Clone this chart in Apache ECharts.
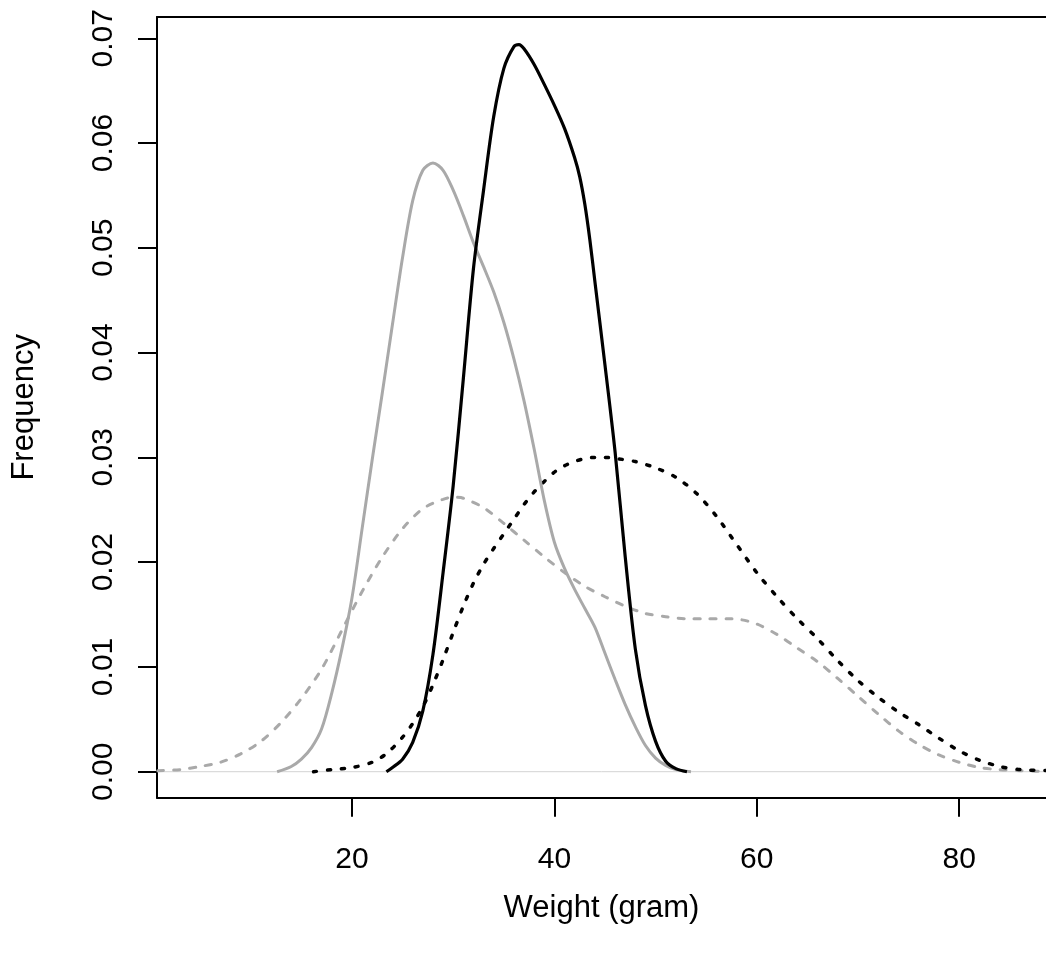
<!DOCTYPE html>
<html>
<head>
<meta charset="utf-8">
<script src="https://cdn.jsdelivr.net/npm/echarts@6/dist/echarts.min.js"></script>
<style>
html,body{margin:0;padding:0;background:#fff;}
#chart{width:1046px;height:955px;}
</style>
</head>
<body>
<div id="chart"></div>
<script>
// ---- Data ----
var xTicks = [20, 40, 60, 80];
var yTicks = [0, 0.01, 0.02, 0.03, 0.04, 0.05, 0.06, 0.07];

// grey solid curve
var greySolidX = [12.6, 14, 15, 16, 17, 18, 19, 20, 21, 22, 23, 24, 25, 26, 27, 28, 29, 30, 31, 32, 33, 34, 35, 36, 37, 38, 39, 40, 41, 42, 43, 44, 45, 46, 47, 48, 49, 50, 51, 52, 53.5];
var greySolidY = [0, 0.0005, 0.0012, 0.0023, 0.0041, 0.0075, 0.0117, 0.0166, 0.0232, 0.0298, 0.0362, 0.0427, 0.0491, 0.0545, 0.0574, 0.0581, 0.0574, 0.0555, 0.0531, 0.0505, 0.0482, 0.0458, 0.0429, 0.0394, 0.0354, 0.0308, 0.0259, 0.0219, 0.0194, 0.0174, 0.0156, 0.0138, 0.0113, 0.0088, 0.0064, 0.0043, 0.0025, 0.0013, 0.0006, 0.0002, 0];

// black solid curve
var blackSolidX = [23.4, 24, 25, 26, 27, 28, 29, 30, 31, 32, 33, 34, 35, 36, 36.5, 37, 38, 39, 40, 41, 42, 42.5, 43, 43.5, 44, 45, 46, 47, 48, 49, 50, 51, 52, 53.1];
var blackSolidY = [0, 0.0004, 0.0012, 0.0028, 0.0058, 0.0112, 0.0190, 0.0273, 0.0375, 0.0480, 0.0555, 0.0625, 0.0671, 0.0692, 0.0694, 0.0690, 0.0675, 0.0656, 0.0636, 0.0614, 0.0586, 0.0568, 0.0542, 0.0508, 0.0468, 0.0388, 0.0305, 0.0205, 0.0117, 0.0063, 0.0029, 0.0010, 0.0003, 0];

// grey dashed curve
var greyDashX = [0.8, 3, 5, 7, 9, 11, 13, 15, 17, 19, 21, 23, 25, 27, 29, 30, 31, 33, 35, 37, 39, 41, 43, 45, 47, 49, 51, 53, 55, 57, 58.5, 60, 62, 64, 66, 68, 70, 72, 74, 76, 78, 80, 82, 84, 86, 89.5];
var greyDashY = [0.0001, 0.0002, 0.0005, 0.0009, 0.0017, 0.0029, 0.0047, 0.0070, 0.0098, 0.0135, 0.0172, 0.0205, 0.0232, 0.0251, 0.0260, 0.0262, 0.0261, 0.0252, 0.0237, 0.0221, 0.0205, 0.0190, 0.0177, 0.0167, 0.0158, 0.0151, 0.0148, 0.0146, 0.0146, 0.0146, 0.0145, 0.0141, 0.0131, 0.0118, 0.0105, 0.0089, 0.0072, 0.0055, 0.0039, 0.0026, 0.0016, 0.0009, 0.0004, 0.0002, 0.0001, 0];

// black dotted curve
var blackDotX = [16.2, 18, 20, 22, 23.5, 25, 26, 27, 28, 29, 30, 31, 32, 33, 34, 35, 36, 37, 38, 39, 40, 41, 42, 43, 44, 45, 46, 48, 50, 52, 54, 56, 58, 60, 62, 64, 66, 68, 70, 72, 74, 76, 78, 80, 82, 84, 86, 89.5];
var blackDotY = [0, 0.0002, 0.0004, 0.0009, 0.0018, 0.0033, 0.0046, 0.0062, 0.0083, 0.0107, 0.0133, 0.0158, 0.0180, 0.0198, 0.0213, 0.0227, 0.0241, 0.0255, 0.0267, 0.0277, 0.0286, 0.0292, 0.0296, 0.0299, 0.0300, 0.0300, 0.0299, 0.0296, 0.0290, 0.0281, 0.0266, 0.0244, 0.0217, 0.0190, 0.0167, 0.0146, 0.0127, 0.0106, 0.0087, 0.0071, 0.0057, 0.0045, 0.0032, 0.0020, 0.0011, 0.0005, 0.0002, 0.0001];

var xMin = 0.73, xMax = 88.58;
var yMin = -0.00248, yMax = 0.07203;

function pairs(xs, ys) {
  var out = [];
  for (var i = 0; i < xs.length; i++) out.push([xs[i], ys[i]]);
  return out;
}

var FONT = "'Liberation Sans', Arial, Helvetica, sans-serif";
var GREY = '#a9a9a9';

var chart = echarts.init(document.getElementById('chart'), null, {renderer: 'canvas'});
chart.setOption({
  animation: false,
  backgroundColor: '#ffffff',
  grid: {
    left: 157, top: 17, width: 889, height: 780.7,
    show: false, containLabel: false, outerBoundsMode: 'none'
  },
  xAxis: [{
    type: 'value', min: xMin, max: xMax, position: 'bottom',
    name: 'Weight (gram)', nameLocation: 'middle', nameGap: 95,
    nameTextStyle: {fontSize: 31, color: '#000', fontFamily: FONT},
    axisLine: {show: true, onZero: false, lineStyle: {color: '#000', width: 2}},
    splitLine: {show: false},
    axisTick: {show: true, inside: false, customValues: xTicks, length: 19, lineStyle: {color: '#000', width: 2}},
    axisLabel: {show: true, customValues: xTicks, fontSize: 30, color: '#000', fontFamily: FONT, margin: 47}
  }, {
    type: 'value', min: xMin, max: xMax, position: 'top',
    axisLine: {show: true, onZero: false, lineStyle: {color: '#000', width: 2}},
    splitLine: {show: false}, axisTick: {show: false}, axisLabel: {show: false}
  }],
  yAxis: {
    type: 'value', min: yMin, max: yMax, position: 'left',
    name: 'Frequency', nameLocation: 'middle', nameGap: 117,
    nameTextStyle: {fontSize: 31, color: '#000', fontFamily: FONT},
    axisLine: {show: true, onZero: false, lineStyle: {color: '#000', width: 2}},
    splitLine: {show: false},
    axisTick: {show: true, inside: false, customValues: yTicks, length: 19, lineStyle: {color: '#000', width: 2}},
    axisLabel: {show: true, customValues: yTicks, rotate: 90, fontSize: 30, color: '#000', fontFamily: FONT, margin: 38,
      formatter: function (v) { return v.toFixed(2); }}
  },
  series: [
    {
      name: 'zero', type: 'line', data: [[xMin, 0], [xMax, 0]], showSymbol: false, silent: true,
      lineStyle: {color: '#d3d3d3', width: 1}, z: 1
    },
    {
      name: 'greyDash', type: 'line', data: pairs(greyDashX, greyDashY), showSymbol: false, smooth: 0.3,
      lineStyle: {color: GREY, width: 3, type: [6, 10], cap: 'round'}, z: 2
    },
    {
      name: 'blackDot', type: 'line', data: pairs(blackDotX, blackDotY), showSymbol: false, smooth: 0.3,
      lineStyle: {color: '#000', width: 3.5, type: [3, 11], cap: 'round'}, z: 3
    },
    {
      name: 'greySolid', type: 'line', data: pairs(greySolidX, greySolidY), showSymbol: false, smooth: 0.3,
      lineStyle: {color: GREY, width: 3}, z: 4
    },
    {
      name: 'blackSolid', type: 'line', data: pairs(blackSolidX, blackSolidY), showSymbol: false, smooth: 0.3,
      lineStyle: {color: '#000', width: 3.2}, z: 5
    }
  ]
});
</script>
</body>
</html>
